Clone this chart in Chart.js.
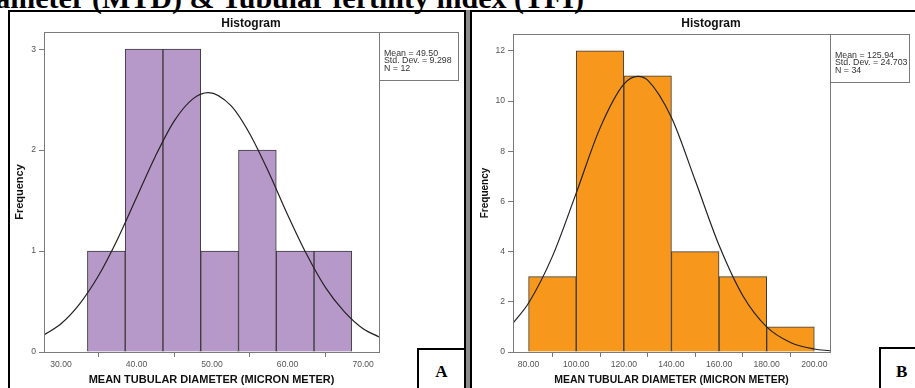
<!DOCTYPE html>
<html>
<head>
<meta charset="utf-8">
<script src="https://cdn.jsdelivr.net/npm/chart.js@4.4.0/dist/chart.umd.min.js"></script>
<style>
  body { margin: 0; width: 915px; height: 388px; overflow: hidden; background: #fff; position: relative; }
  .topline { position: absolute; right: 331px; top: -17px; font: bold 30px/30px "Liberation Serif", serif; white-space: nowrap; color: #000; }
  .frame { position: absolute; border: 2px solid #000; }
  #frameA { left: 8px; top: 10px; width: 454px; height: 400px; }
  #frameB { left: 470px; top: 10px; width: 500px; height: 400px; }
  #gap { position: absolute; left: 466px; top: 10px; width: 4px; height: 400px; background: #8a8a8a; }
  .tag { position: absolute; border: 2px solid #000; background: #fff; font: bold 17px "Liberation Serif", serif; text-align: center; line-height: 44px; }
  #tagA { left: 417px; top: 348px; width: 45px; height: 50px; }
  #tagB { left: 879px; top: 347px; width: 60px; height: 50px; text-align: left; padding-left: 15px; line-height: 46px; }
  canvas { position: absolute; top: 0; }
  #histA { left: 0; }
  #histB { left: 472px; }
</style>
</head>
<body>
<div class="topline">Diameter (MTD) &amp; Tubular fertility index (TFI)</div>
<div class="frame" id="frameA"></div>
<div id="gap"></div>
<div class="frame" id="frameB"></div>
<canvas id="histA" width="464" height="388"></canvas>
<canvas id="histB" width="443" height="388"></canvas>
<div class="tag" id="tagA">A</div>
<div class="tag" id="tagB">B</div>
<script>
// Panel A - bins of 5 micron
const binMidsA = [36, 41, 46, 51, 56, 61, 66];
const countsA = [1, 3, 3, 1, 2, 1, 1];
const curveXA = [27.75, 30, 32.5, 35, 37.5, 40, 42.5, 45, 47.5, 49.5, 52.5, 55, 57.5, 60, 62.5, 65, 67.5, 70, 72.1];
const curveYA = [0.17, 0.28, 0.48, 0.76, 1.12, 1.53, 1.94, 2.29, 2.51, 2.57, 2.44, 2.16, 1.78, 1.36, 0.97, 0.64, 0.40, 0.23, 0.15];
const xTicksA = [30, 40, 50, 60, 70];
const yTicksA = [0, 1, 2, 3];
const statsA = ['Mean = 49.50', 'Std. Dev. = 9.298', 'N = 12'];

// Panel B - bins of 20 micron
const binMidsB = [90, 110, 130, 150, 170, 190];
const countsB = [3, 12, 11, 4, 3, 1];
const curveXB = [73.45, 80, 90, 100, 110, 120, 125.94, 130, 140, 150, 160, 170, 180, 190, 200, 206.6];
const curveYB = [1.15, 1.95, 3.81, 6.33, 8.92, 10.67, 10.98, 10.83, 9.34, 6.83, 4.25, 2.24, 1.00, 0.38, 0.12, 0.05];
const xTicksB = [80, 100, 120, 140, 160, 180, 200];
const yTicksB = [0, 2, 4, 6, 8, 10, 12];
const statsB = ['Mean = 125.94', 'Std. Dev. = 24.703', 'N = 34'];

const SANS = '"Liberation Sans", Arial, sans-serif';

// draws the SPSS style plot frame, stats box and "Histogram" heading
const spssFrame = {
    id: 'spssFrame',
    afterDraw(chart, args, opts) {
        const { ctx, chartArea: a } = chart;
        ctx.save();
        ctx.strokeStyle = '#7a7a7a';
        ctx.lineWidth = 1;
        ctx.strokeRect(Math.round(a.left) + 0.5, Math.round(a.top) + 0.5, Math.round(a.right - a.left), Math.round(a.bottom - a.top));
        ctx.strokeRect(Math.round(a.right) + 0.5, Math.round(a.top) + 0.5, opts.boxWidth, opts.boxHeight);
        ctx.fillStyle = '#333';
        ctx.font = opts.statFont + 'px ' + SANS;
        ctx.textBaseline = 'middle';
        opts.stats.forEach((s, i) => ctx.fillText(s, a.right + 5, a.top + 21.5 + i * 7.3));
        ctx.font = 'bold 12px ' + SANS;
        ctx.textAlign = 'center';
        ctx.fillStyle = '#111';
        ctx.fillText('Histogram', (a.left + a.right + opts.boxWidth) / 2, 24);
        ctx.restore();
    }
};

function initHistogram(canvasId, cfg) {
    const ctx = document.getElementById(canvasId).getContext('2d');
    new Chart(ctx, {
        type: 'bar',
        data: {
            datasets: [{
                type: 'line',
                data: cfg.curveX.map((x, i) => ({ x: x, y: cfg.curveY[i] })),
                borderColor: '#222',
                borderWidth: 1.2,
                pointRadius: 0,
                cubicInterpolationMode: 'monotone',
                order: 0,
            }, {
                type: 'bar',
                data: cfg.mids.map((x, i) => ({ x: x, y: cfg.counts[i] })),
                backgroundColor: cfg.color,
                borderColor: '#3a3a3a',
                borderWidth: 1,
                barPercentage: 1,
                categoryPercentage: 1,
                order: 1,
            }]
        },
        options: {
            responsive: false,
            animation: false,
            layout: {
                padding: { left: 0, top: cfg.top, right: 85, bottom: 0 }
            },
            plugins: {
                legend: { display: false },
                tooltip: { enabled: false },
                spssFrame: { boxWidth: 79, boxHeight: 48, stats: cfg.stats, statFont: 8.8 },
            },
            scales: {
                x: {
                    type: 'linear',
                    min: cfg.xMin,
                    max: cfg.xMax,
                    offset: false,
                    afterFit: (scale) => { scale.height = 36; },
                    afterBuildTicks: (scale) => { scale.ticks = cfg.xTicks.map(v => ({ value: v })); },
                    grid: { drawOnChartArea: false, tickLength: 5, color: '#7a7a7a' },
                    border: { display: false },
                    ticks: {
                        autoSkip: false,
                        maxRotation: 0,
                        padding: 2,
                        color: '#555',
                        font: { family: SANS, size: 8.6 },
                        callback: (v) => Number(v).toFixed(2),
                    },
                    title: {
                        display: true,
                        text: 'MEAN TUBULAR DIAMETER (MICRON METER)',
                        color: '#111',
                        font: { family: SANS, size: cfg.xTitleSize, weight: 'bold' },
                        padding: { top: 0, bottom: 1.5 },
                    },
                },
                y: {
                    min: 0,
                    max: cfg.yMax,
                    afterFit: (scale) => { scale.width = cfg.yWidth; },
                    afterBuildTicks: (scale) => { scale.ticks = cfg.yTicks.map(v => ({ value: v })); },
                    grid: { drawOnChartArea: false, tickLength: 5, color: '#7a7a7a' },
                    border: { display: false },
                    ticks: {
                        padding: 3,
                        color: '#555',
                        font: { family: SANS, size: 8.6 },
                    },
                    title: {
                        display: true,
                        text: 'Frequency',
                        color: '#111',
                        font: { family: SANS, size: cfg.yTitleSize, weight: 'bold' },
                        padding: { top: cfg.yTitlePad, bottom: 0 },
                    },
                },
            },
        },
        plugins: [spssFrame]
    });
}

initHistogram('histA', {
    mids: binMidsA, counts: countsA, curveX: curveXA, curveY: curveYA,
    xTicks: xTicksA, yTicks: yTicksA, stats: statsA,
    color: '#b799c9', xMin: 27.75, xMax: 72.1, yMax: 3.17,
    top: 32, yWidth: 44, yTitlePad: 13, xTitleSize: 11, yTitleSize: 11,
});

initHistogram('histB', {
    mids: binMidsB, counts: countsB, curveX: curveXB, curveY: curveYB,
    xTicks: xTicksB, yTicks: yTicksB, stats: statsB,
    color: '#f7981d', xMin: 73.45, xMax: 206.6, yMax: 12.67,
    top: 34, yWidth: 41, yTitlePad: 7, xTitleSize: 10.5, yTitleSize: 10,
});
</script>
</body>
</html>
